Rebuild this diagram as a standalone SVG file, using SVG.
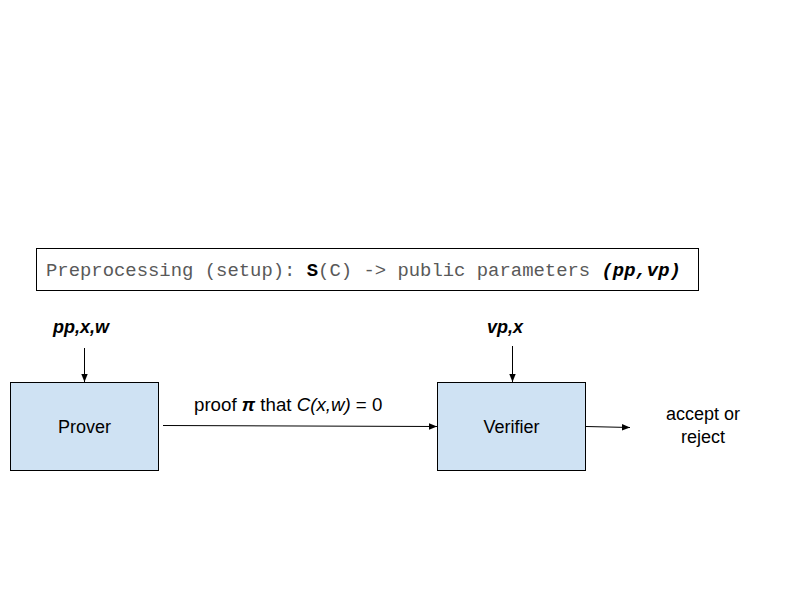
<svg xmlns="http://www.w3.org/2000/svg" width="800" height="600" viewBox="0 0 800 600">
<style>
.box{fill:#cfe2f3;stroke:#000;stroke-width:1}
.lbl{font-family:"Liberation Sans",Arial,sans-serif;font-size:18px;fill:#000}
.bi{font-weight:bold;font-style:italic}
.mono{font-family:"Liberation Mono","Courier New",monospace;font-size:18.9px;fill:#595959}
.conn{stroke:#000;stroke-width:1;fill:none;marker-end:url(#ah)}
</style>
<defs>
<marker id="ah" viewBox="0 0 10 10" refX="10" refY="5" markerWidth="8" markerHeight="8" markerUnits="userSpaceOnUse" orient="auto">
<path d="M0,1 L10,5 L0,9 z" fill="#000"/>
</marker>
</defs>
<rect width="800" height="600" fill="#fff"/>
<g id="setup">
<rect x="36.5" y="248.5" width="662" height="42" fill="#fff" stroke="#000"/>
<text class="mono" x="46" y="276">Preprocessing (setup): <tspan font-weight="bold" fill="#000">S</tspan>(C) -&gt; public parameters <tspan font-weight="bold" font-style="italic" fill="#000">(pp,vp)</tspan></text>
</g>
<g id="prover">
<rect class="box" x="10.5" y="382.5" width="148" height="88"/>
<text class="lbl" x="84.5" y="433" text-anchor="middle">Prover</text>
</g>
<g id="verifier">
<rect class="box" x="437.5" y="382.5" width="148" height="88"/>
<text class="lbl" x="511.5" y="433" text-anchor="middle">Verifier</text>
</g>
<g id="prover-input">
<text class="lbl bi" x="81" y="333" text-anchor="middle">pp,x,w</text>
</g>
<g id="verifier-input">
<text class="lbl bi" x="505" y="333" text-anchor="middle">vp,x</text>
</g>
<g id="output">
<text class="lbl" x="703" y="420" text-anchor="middle">accept or</text>
<text class="lbl" x="703" y="443" text-anchor="middle">reject</text>
</g>
<g id="connectors">
<line class="conn" x1="84.5" y1="348" x2="84.5" y2="382"/>
<line class="conn" x1="512.5" y1="346" x2="512.5" y2="382"/>
<line class="conn" x1="163" y1="425.5" x2="437" y2="426.5"/>
<line class="conn" x1="586" y1="426.5" x2="630" y2="427.5"/>
<text class="lbl" x="194" y="411" style="font-size:18.7px">proof <tspan font-weight="bold" font-style="italic">π</tspan> that <tspan font-style="italic">C(x,w)</tspan> = 0</text>
</g>
</svg>
